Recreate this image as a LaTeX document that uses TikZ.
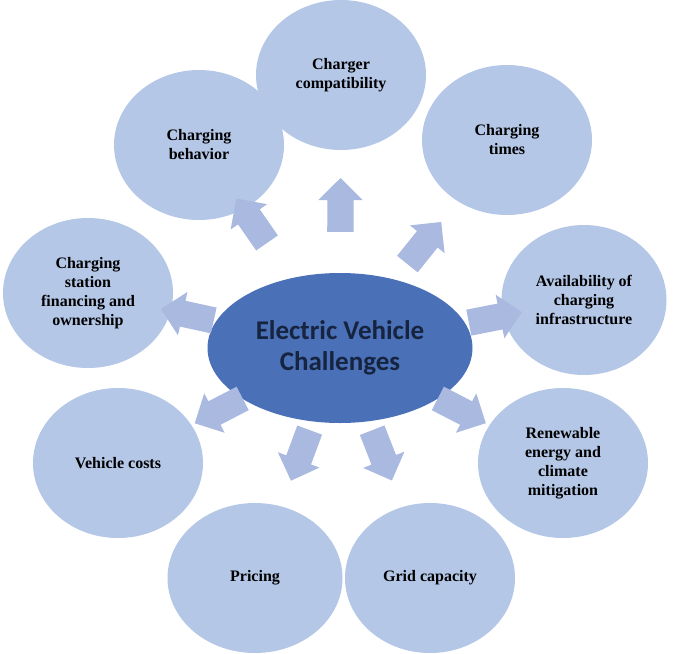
\documentclass[tikz,border=0pt]{standalone}
\usepackage{fontspec}
\setmainfont{Liberation Serif}
\newfontfamily\titlefont{Carlito}
\usetikzlibrary{shapes.geometric,shapes.arrows}
\definecolor{bubble}{HTML}{B4C7E7}
\definecolor{hub}{HTML}{4A70B8}
\definecolor{arrowfill}{HTML}{A9B9DF}
\definecolor{hubtext}{HTML}{16243F}
\tikzset{
  topic/.style={ellipse, fill=bubble, minimum width=170pt, minimum height=150pt,
    align=center, font=\fontsize{16}{19}\selectfont\bfseries, text=black, inner sep=0pt},
  centre/.style={ellipse, fill=hub, minimum width=265pt, minimum height=150pt,
    align=center, font=\titlefont\fontsize{27}{31}\selectfont\bfseries, text=hubtext},
  blockarrow/.style={single arrow, fill=arrowfill, inner sep=13pt, minimum height=54pt,
    single arrow head extend=9pt, sloped, allow upside down}
}
\begin{document}
\begin{tikzpicture}[x=1pt,y=-1pt]
\useasboundingbox (0,0) rectangle (685,653);
% the hub
\node[centre] (ev) at (340,348) {Electric Vehicle\\Challenges};
% the challenges around it
\node[topic] (compat) at (341,75) {Charger\\compatibility};
\node[topic] (times) at (507,140) {Charging\\times};
\node[topic, minimum width=165pt] (avail) at (584,300) {Availability of\\charging\\infrastructure};
\node[topic] (renew) at (563,463) {Renewable\\energy and\\climate\\mitigation};
\node[topic] (grid) at (430,578) {Grid capacity};
\node[topic, minimum width=175pt] (pricing) at (255,578) {Pricing};
\node[topic] (costs) at (118,463) {Vehicle costs};
\node[topic] (finance) at (88,293) {Charging\\station\\financing and\\ownership};
\node[topic] (behav) at (199,145) {Charging\\behavior};
% arrows from the hub
\foreach \target/\where in {compat/0.5, times/0.48, avail/0.61, renew/0.52, grid/0.44,
    pricing/0.44, costs/0.52, finance/0.58, behav/0.6}
  \path (ev.center) -- (\target.center) node[blockarrow, pos=\where] (arr-\target) {};
\end{tikzpicture}
\end{document}
